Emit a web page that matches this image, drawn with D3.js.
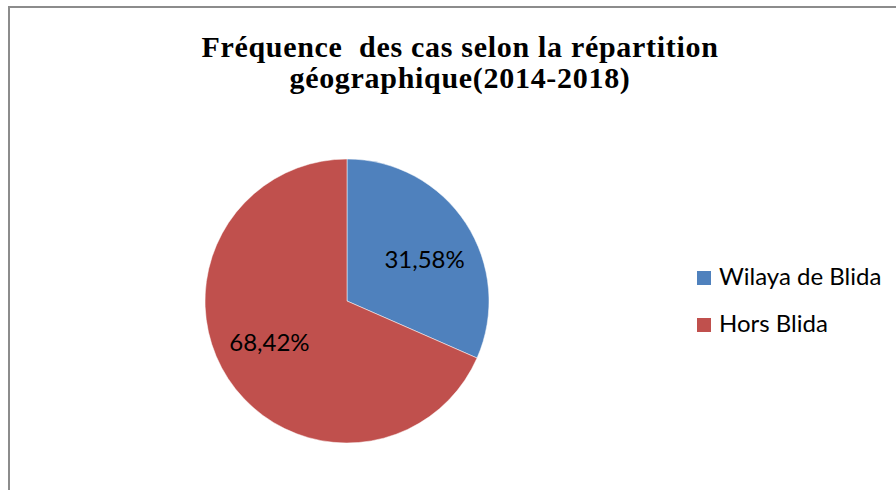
<!DOCTYPE html>
<html>
<head>
<meta charset="utf-8">
<script src="https://cdn.jsdelivr.net/npm/d3@7"></script>
<style>
  html, body { margin: 0; padding: 0; background: #fff; }
  svg { display: block; }
</style>
</head>
<body>
<svg id="chart" width="896" height="490"></svg>
<script>
const categories = ["Wilaya de Blida", "Hors Blida"];
const values = [31.58, 68.42];
const labels = ["31,58%", "68,42%"];
const colors = ["#4f81bd", "#c0504d"];
const titleLines = ["Fréquence  des cas selon la répartition", "géographique(2014-2018)"];

const svg = d3.select("#chart");

// frame
svg.append("rect")
  .attr("x", 9).attr("y", 7)
  .attr("width", 900).attr("height", 500)
  .attr("fill", "#fff")
  .attr("stroke", "#8c8c8c")
  .attr("stroke-width", 2);

// title
const title = svg.append("text")
  .attr("text-anchor", "middle")
  .attr("font-family", "'Liberation Serif', 'Times New Roman', serif")
  .attr("font-weight", "bold")
  .attr("font-size", 30)
  .attr("letter-spacing", 0.7)
  .attr("fill", "#000")
  .style("white-space", "pre");
titleLines.forEach((t, i) => {
  title.append("tspan")
    .attr("x", 460)
    .attr("y", 57 + i * 31)
    .text(t);
});

// pie
const cx = 347, cy = 301, r = 142;
const pie = d3.pie().sort(null).value(d => d)(values);
const arc = d3.arc().innerRadius(0).outerRadius(r);
const g = svg.append("g").attr("transform", `translate(${cx},${cy})`);
g.selectAll("path")
  .data(pie)
  .join("path")
  .attr("d", arc)
  .attr("fill", (d, i) => colors[i])
  .attr("stroke", "#fff")
  .attr("stroke-width", 0.5);

// data labels
const labelR = 88, angShift = 0.087;
g.selectAll("text.lbl")
  .data(pie)
  .join("text")
  .attr("class", "lbl")
  .attr("text-anchor", "middle")
  .attr("font-family", "Lato, 'Open Sans', sans-serif")
  .attr("font-size", 24)
  .attr("fill", "#000")
  .attr("transform", d => {
    const a = (d.startAngle + d.endAngle) / 2 + angShift;
    return `translate(${labelR * Math.sin(a)},${-labelR * Math.cos(a)})`;
  })
  .attr("dy", "0.35em")
  .text((d, i) => labels[i]);

// legend
const legend = svg.append("g").attr("transform", "translate(697,271)");
const items = legend.selectAll("g")
  .data(categories)
  .join("g")
  .attr("transform", (d, i) => `translate(0,${i * 47})`);
items.append("rect")
  .attr("width", 14).attr("height", 14)
  .attr("fill", (d, i) => colors[i]);
items.append("text")
  .attr("x", 22)
  .attr("y", 14)
  .attr("font-family", "Lato, 'Open Sans', sans-serif")
  .attr("font-size", 24)
  .attr("fill", "#000")
  .text(d => d);
</script>
</body>
</html>
